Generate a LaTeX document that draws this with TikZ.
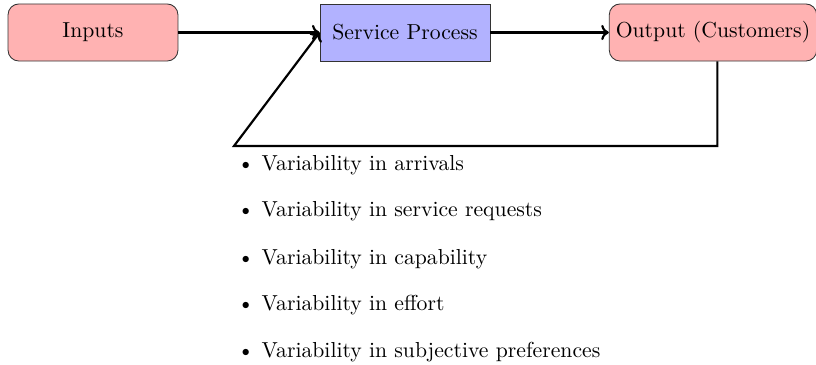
\documentclass[tikz,border=0pt]{standalone}
\usetikzlibrary{arrows.meta}
\begin{document}
\begin{tikzpicture}[x=0.4608pt, y=-0.4608pt,
  roundbox/.style={draw=black!80, fill=red!30, rounded corners=5pt, minimum height=26.3pt, inner sep=3pt},
  sqbox/.style={draw=black!80, fill=blue!30, minimum height=26.3pt, minimum width=78.3pt, inner sep=3pt},
  conn/.style={line width=1pt, -{To[length=3.5pt,width=7pt]}},
  itm/.style={anchor=west, inner sep=0pt}]
\useasboundingbox (0,0) rectangle (816,365);
\node[roundbox, minimum width=78.3pt] (inputs) at (93,32.5) {Inputs};
\node[sqbox] (service) at (405,32.5) {Service Process};
\node[roundbox, minimum width=93pt] (output) at (713,32.5) {Output (Customers)};
\draw[conn] (inputs.east) -- (service.west);
\draw[conn] (service.east) -- (output.west);
\coordinate (fb) at (234,146);
\draw[conn] ([xshift=2pt]output.south) |- (fb) -- (service.west);
\node[itm] (i1) at (237,165) {\textbullet\hspace{3.4pt}Variability in arrivals};
\node[itm] (i2) at (237,211) {\textbullet\hspace{3.4pt}Variability in service requests};
\node[itm] (i3) at (237,259) {\textbullet\hspace{3.4pt}Variability in capability};
\node[itm] (i4) at (237,305) {\textbullet\hspace{3.4pt}Variability in effort};
\node[itm] (i5) at (237,352) {\textbullet\hspace{3.4pt}Variability in subjective preferences};
\end{tikzpicture}
\end{document}
